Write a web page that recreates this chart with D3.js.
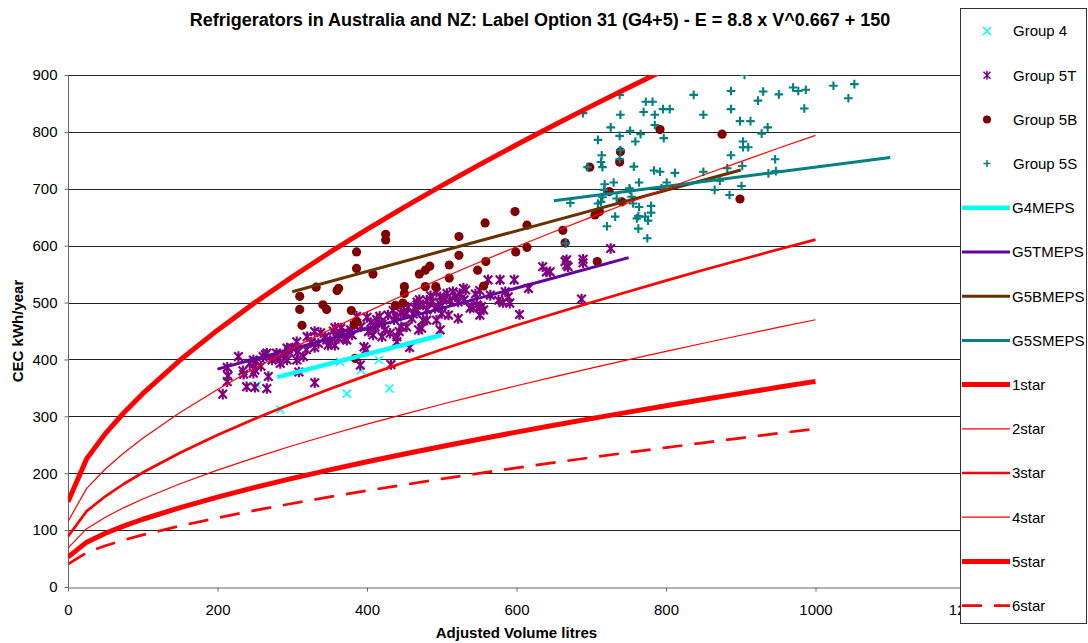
<!DOCTYPE html>
<html>
<head>
<meta charset="utf-8">
<script src="https://cdn.jsdelivr.net/npm/d3@7"></script>
<style>
  html, body { margin: 0; padding: 0; background: #fff; }
  svg { display: block; font-family: Arial, "Liberation Sans", sans-serif; }
</style>
</head>
<body>
<svg id="chart" width="1088" height="643"></svg>
<script>
// ---- Data ----------------------------------------------------------------
// Adjusted volume (litres) at which the star-rating curves are tabulated
const volumeSteps = [0, 25, 50, 75, 100, 150, 200, 250, 300, 350, 400, 450, 500,
  550, 600, 650, 700, 750, 800, 850, 900, 950, 1000];

// Star-rating thresholds, CEC kWh/year
const star1 = [150, 225.3, 269.6, 306.7, 339.9, 398.9, 451.5, 499.9, 545.2, 588.0, 628.7, 667.9, 705.5,
  742.0, 777.4, 811.8, 845.3, 878.0, 910.1, 941.5, 972.2, 1002.5, 1032.1];
const star2 = [115.4, 173.3, 207.4, 235.9, 261.5, 306.8, 347.3, 384.5, 419.4, 452.3, 483.6, 513.8, 542.7,
  570.8, 598.0, 624.5, 650.2, 675.4, 700.1, 724.2, 747.8, 771.2, 793.9];
const star3 = [88.8, 133.3, 159.5, 181.5, 201.2, 236.0, 267.2, 295.8, 322.6, 347.9, 372.0, 395.2, 417.5,
  439.1, 460.0, 480.4, 500.2, 519.5, 538.5, 557.1, 575.2, 593.2, 610.7];
const star4 = [68.3, 102.5, 122.7, 139.6, 154.8, 181.5, 205.5, 227.5, 248.2, 267.6, 286.2, 304.0, 321.2,
  337.8, 353.8, 369.5, 384.8, 399.6, 414.2, 428.5, 442.5, 456.3, 469.8];
const star5 = [52.5, 78.8, 94.4, 107.4, 119.1, 139.6, 158.1, 175.0, 190.9, 205.8, 220.2, 233.8, 247.1,
  259.8, 272.2, 284.2, 296.0, 307.4, 318.6, 329.6, 340.4, 351.0, 361.4];
const star6 = [40.4, 60.6, 72.6, 82.6, 91.6, 107.4, 121.6, 134.6, 146.8, 158.3, 169.4, 179.8, 190.1,
  199.8, 209.4, 218.6, 227.7, 236.5, 245.1, 253.5, 261.8, 270.0, 278.0];

// MEPS trend lines: [volume, CEC] end points
const g4Meps  = [[280, 369], [500, 443]];
const g5tMeps = [[200, 383], [750, 579]];
const g5bMeps = [[300, 519], [900, 733]];
const g5sMeps = [[650, 679], [1100, 755]];

// Registered models: [adjusted volume, CEC]
const group4 = [[284, 312], [253, 355], [373, 340], [430, 349], [364, 396], [392, 381], [416, 399]];

const group5T = [
  [207, 339], [213, 361], [214, 371], [213, 386], [228, 405], [235, 374], [239, 352], [250, 351],
  [266, 349], [268, 370], [243, 393], [250, 381], [252, 396], [264, 408], [273, 399], [279, 411],
  [284, 393], [288, 408], [293, 399], [295, 414], [306, 431], [308, 414], [306, 399], [309, 378],
  [319, 417], [330, 421], [330, 359], [335, 428], [346, 434], [330, 449], [357, 425], [362, 437],
  [375, 446], [396, 422], [408, 443], [420, 440], [391, 390], [432, 391], [457, 421], [399, 418],
  [417, 476], [357, 456], [386, 476], [400, 474], [368, 446], [373, 434], [443, 449], [453, 481],
  [467, 496], [480, 487], [495, 493], [498, 452], [522, 472], [551, 478], [553, 493], [435, 486],
  [449, 484], [467, 501], [480, 504], [491, 490], [498, 510], [507, 516], [515, 519], [529, 525],
  [532, 522], [509, 478], [547, 496], [562, 540], [578, 540], [597, 540], [589, 510], [604, 479],
  [616, 525], [635, 563], [640, 554], [402, 449], [431, 446], [440, 431], [475, 469], [469, 452],
  [453, 457], [645, 554], [667, 566], [689, 570], [687, 506], [582, 500], [551, 521], [524, 516],
  [540, 493], [551, 490], [473, 455], [480, 469], [464, 490], [440, 440], [504, 507], [665, 572],
  [669, 563], [689, 576], [726, 595], [667, 575], [248, 399], [261, 405], [293, 420], [348, 425],
  [344, 440], [362, 443], [371, 437], [380, 443], [411, 457], [424, 452], [440, 475], [446, 457],
  [460, 472], [467, 487], [475, 496], [487, 501], [493, 469], [500, 481], [511, 504], [522, 501],
  [538, 490], [556, 487], [565, 513], [576, 504], [585, 519], [591, 499], [234, 380], [248, 376],
  [266, 411], [320, 440], [325, 430], [338, 447], [352, 430], [355, 450], [365, 455], [378, 452],
  [383, 460], [392, 458], [405, 465], [413, 470], [420, 462], [428, 478], [436, 470], [445, 482],
  [455, 492], [462, 480], [470, 505], [485, 512], [493, 518], [500, 495], [518, 510], [530, 505],
  [545, 515], [315, 405], [300, 420], [280, 402], [258, 388]
];

const group5B = [
  [310, 511], [310, 488], [313, 460], [332, 527], [341, 496], [346, 488], [360, 521], [362, 525],
  [379, 486], [383, 462], [386, 466], [386, 589], [386, 560], [408, 550], [425, 620], [425, 610],
  [438, 495], [448, 499], [450, 528], [450, 516], [470, 550], [478, 557], [484, 564], [478, 528],
  [492, 528], [510, 566], [510, 543], [523, 616], [523, 583], [548, 557], [558, 640], [559, 572],
  [556, 529], [599, 589], [614, 636], [614, 597], [384, 402], [598, 660], [662, 627], [665, 605],
  [708, 572], [705, 654], [711, 660], [724, 695], [741, 677], [698, 738], [738, 747], [739, 765],
  [792, 804], [875, 796], [899, 682]
];

const group5S = [
  [905, 900], [738, 865], [837, 865], [887, 872], [930, 871], [951, 866], [923, 855], [970, 878],
  [977, 872], [987, 874], [1024, 881], [1052, 884], [1044, 859], [985, 841], [689, 833], [739, 830],
  [773, 853], [782, 853], [770, 835], [785, 830], [796, 840], [805, 840], [850, 830], [887, 840],
  [899, 819], [913, 819], [726, 808], [785, 812], [752, 802], [766, 796], [759, 783], [738, 793],
  [797, 789], [709, 786], [928, 797], [936, 808], [903, 783], [910, 773], [903, 773], [714, 759],
  [739, 768], [738, 752], [713, 747], [715, 738], [695, 738], [887, 759], [946, 752], [757, 739],
  [784, 732], [792, 730], [812, 728], [850, 730], [882, 736], [902, 740], [937, 727], [947, 731],
  [872, 714], [865, 698], [885, 689], [901, 705], [801, 711], [794, 701], [764, 711], [730, 711],
  [718, 708], [717, 698], [751, 701], [754, 686], [734, 683], [713, 677], [756, 674], [764, 668],
  [780, 670], [780, 658], [763, 652], [772, 651], [732, 651], [709, 674], [672, 675], [752, 698],
  [715, 685], [776, 644], [721, 634], [763, 630], [775, 613], [666, 604], [761, 648]
];

const xTicks = [0, 200, 400, 600, 800, 1000, 1200];
const yTicks = [0, 100, 200, 300, 400, 500, 600, 700, 800, 900];

const legendLabels = ["Group 4", "Group 5T", "Group 5B", "Group 5S", "G4MEPS", "G5TMEPS",
  "G5BMEPS", "G5SMEPS", "1star", "2star", "3star", "4star", "5star", "6star"];

// ---- Layout & scales -------------------------------------------------------
const svg = d3.select("#chart");
const plot = { left: 68, right: 965, top: 75, bottom: 587 };
const x = d3.scaleLinear().domain([0, 1200]).range([plot.left, plot.right]);
const y = d3.scaleLinear().domain([0, 900]).range([plot.bottom, plot.top]);

const C = {
  cyan: "#00FFFF", purple: "#800080", maroon: "#800000", teal: "#008080",
  violet: "#660099", brown: "#663300", red: "#FF0000"
};

svg.append("defs").append("clipPath").attr("id", "plotClip")
  .append("rect").attr("x", plot.left).attr("y", plot.top)
  .attr("width", plot.right - plot.left).attr("height", plot.bottom - plot.top);

// Title
svg.append("text").attr("x", 540).attr("y", 26).attr("text-anchor", "middle")
  .attr("font-size", 18).attr("font-weight", "bold")
  .text("Refrigerators in Australia and NZ: Label Option 31 (G4+5) - E = 8.8 x V^0.667 + 150");

// Horizontal gridlines
svg.append("g").attr("class", "grid")
  .selectAll("line").data(yTicks.filter(d => d > 0)).join("line")
  .attr("x1", plot.left).attr("x2", plot.right)
  .attr("y1", d => Math.round(y(d)) + 0.5).attr("y2", d => Math.round(y(d)) + 0.5)
  .attr("stroke", "#222").attr("stroke-width", 1);

// Axes
const yAxis = svg.append("g").attr("transform", `translate(${plot.left + 0.5},0)`)
  .call(d3.axisLeft(y).tickValues(yTicks).tickFormat(d3.format("d"))
    .tickSize(4).tickPadding(7).tickSizeOuter(0));
const xAxis = svg.append("g").attr("transform", `translate(0,${plot.bottom + 0.5})`)
  .call(d3.axisBottom(x).tickValues(xTicks).tickFormat(d3.format("d"))
    .tickSize(4).tickPadding(13).tickSizeOuter(0));
[yAxis, xAxis].forEach(a => {
  a.select(".domain").attr("stroke", "#666");
  a.selectAll(".tick line").attr("stroke", "#666");
  a.selectAll("text").attr("font-size", 15).attr("fill", "#000")
    .attr("font-family", "Arial, 'Liberation Sans', sans-serif");
});
yAxis.select(".domain").attr("d", `M0,${plot.top}V${plot.bottom}`);

// Axis titles
svg.append("text").attr("transform", `translate(23,${(plot.top + plot.bottom) / 2}) rotate(-90)`)
  .attr("text-anchor", "middle").attr("font-size", 15).attr("font-weight", "bold")
  .text("CEC kWh/year");
svg.append("text").attr("x", (plot.left + plot.right) / 2).attr("y", 638)
  .attr("text-anchor", "middle").attr("font-size", 15).attr("font-weight", "bold")
  .text("Adjusted Volume litres");

// ---- Marker shapes ---------------------------------------------------------
const markerPath = {
  cross: s => `M${-s},${-s}L${s},${s}M${-s},${s}L${s},${-s}`,
  star: s => `M${-s},${-s}L${s},${s}M${-s},${s}L${s},${-s}M0,${-s - 1}V${s + 1}`,
  plus: s => `M${-s},0H${s}M0,${-s}V${s}`
};

const marks = svg.append("g").attr("clip-path", "url(#plotClip)");

function drawScatter(data, type, color, size, width) {
  const g = marks.append("g");
  if (type === "circle") {
    g.selectAll("circle").data(data).join("circle")
      .attr("cx", d => x(d[0])).attr("cy", d => y(d[1])).attr("r", size).attr("fill", color);
  } else {
    g.selectAll("path").data(data).join("path")
      .attr("transform", d => `translate(${x(d[0])},${y(d[1])})`)
      .attr("d", markerPath[type](size))
      .attr("fill", "none").attr("stroke", color).attr("stroke-width", width);
  }
}

drawScatter(group4, "cross", C.cyan, 4, 1.6);
drawScatter(group5T, "star", C.purple, 4.3, 2.2);
drawScatter(group5B, "circle", C.maroon, 4.6);
drawScatter(group5S, "plus", C.teal, 4.3, 2.1);

// ---- Lines -----------------------------------------------------------------
const line = d3.line().x(d => x(d[0])).y(d => y(d[1]));

const lineSeries = [
  { data: g4Meps, color: C.cyan, width: 4.5 },
  { data: g5tMeps, color: C.violet, width: 3 },
  { data: g5bMeps, color: C.brown, width: 3 },
  { data: g5sMeps, color: C.teal, width: 3 },
  { data: d3.zip(volumeSteps, star1), color: C.red, width: 5 },
  { data: d3.zip(volumeSteps, star2), color: C.red, width: 1.2 },
  { data: d3.zip(volumeSteps, star3), color: C.red, width: 2.7 },
  { data: d3.zip(volumeSteps, star4), color: C.red, width: 1.2 },
  { data: d3.zip(volumeSteps, star5), color: C.red, width: 5 },
  { data: d3.zip(volumeSteps, star6), color: C.red, width: 2.7, dash: "20,12" }
];

lineSeries.forEach(s => {
  marks.append("path").datum(s.data).attr("d", line)
    .attr("fill", "none").attr("stroke", s.color).attr("stroke-width", s.width)
    .attr("stroke-linejoin", "round")
    .attr("stroke-dasharray", s.dash || null);
});

// ---- Legend ----------------------------------------------------------------
const legend = svg.append("g");
legend.append("rect").attr("x", 960.5).attr("y", 8.5).attr("width", 126).attr("height", 615)
  .attr("fill", "#fff").attr("stroke", "#333").attr("stroke-width", 1);

const legendStyle = [
  { type: "cross", color: C.cyan, size: 4, width: 1.5 },
  { type: "star", color: C.purple, size: 3.5, width: 1.5 },
  { type: "circle", color: C.maroon, size: 4 },
  { type: "plus", color: C.teal, size: 3.5, width: 1.5 },
  { type: "line", color: C.cyan, width: 4.5 },
  { type: "line", color: C.violet, width: 3 },
  { type: "line", color: C.brown, width: 3 },
  { type: "line", color: C.teal, width: 3 },
  { type: "line", color: C.red, width: 5 },
  { type: "line", color: C.red, width: 1.2 },
  { type: "line", color: C.red, width: 2.7 },
  { type: "line", color: C.red, width: 1.2 },
  { type: "line", color: C.red, width: 5 },
  { type: "line", color: C.red, width: 2.7, dash: "20,12" }
];

legendLabels.forEach((label, i) => {
  const cy = 31 + i * 44.2;
  const st = legendStyle[i];
  const g = legend.append("g");
  if (st.type === "line") {
    g.append("line").attr("x1", 962).attr("x2", 1010).attr("y1", cy).attr("y2", cy)
      .attr("stroke", st.color).attr("stroke-width", st.width)
      .attr("stroke-dasharray", st.dash || null);
  } else if (st.type === "circle") {
    g.append("circle").attr("cx", 987).attr("cy", cy).attr("r", st.size).attr("fill", st.color);
  } else {
    g.append("path").attr("transform", `translate(987,${cy})`).attr("d", markerPath[st.type](st.size))
      .attr("fill", "none").attr("stroke", st.color).attr("stroke-width", st.width);
  }
  g.append("text").attr("x", st.type === "line" ? 1012 : 1013).attr("y", cy).attr("dy", "0.36em")
    .attr("font-size", 15).text(label);
});
</script>
</body>
</html>
